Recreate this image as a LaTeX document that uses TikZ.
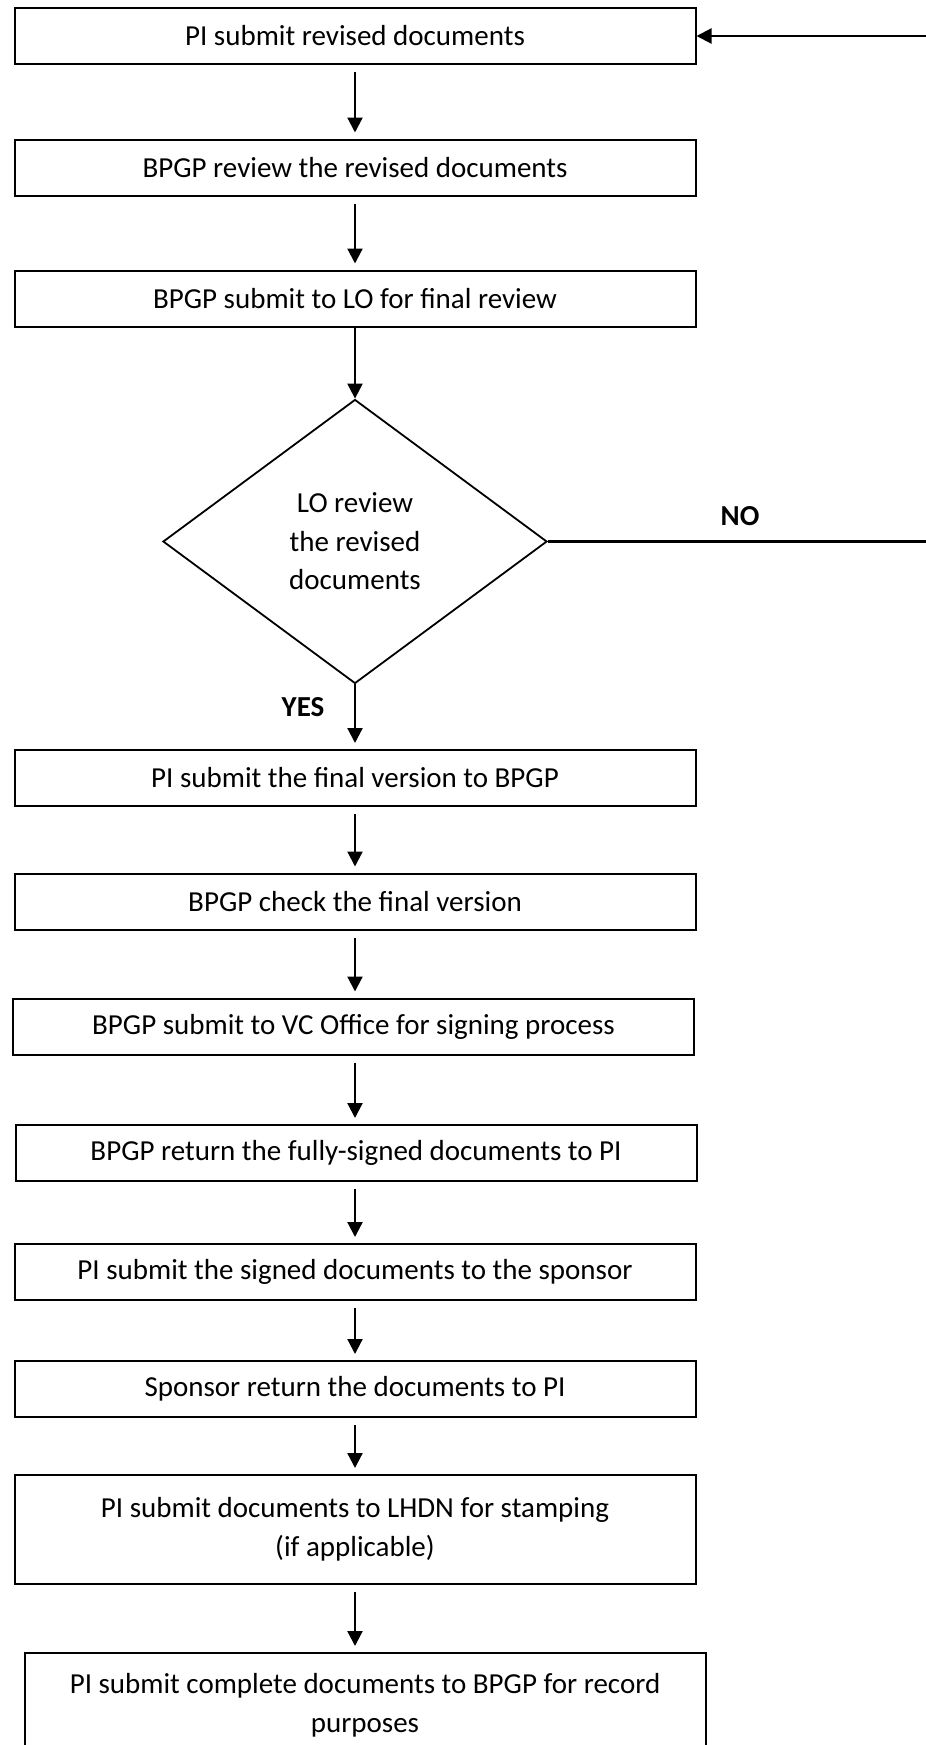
\documentclass[tikz,border=0pt]{standalone}
\usepackage{fontspec}
\setmainfont{Carlito}
\usetikzlibrary{arrows.meta,shapes.geometric}

\begin{document}
\begin{tikzpicture}[x=0.5pt, y=-0.5pt,
      laatikko/.style={draw=black, line width=1pt, minimum width=340.5pt,
        minimum height=28pt, inner sep=0pt, align=center,
        font=\fontsize{14.5pt}{19.5pt}\selectfont},
      paatos/.style={diamond, draw=black, line width=0.9pt, aspect=1.352,
        minimum width=192pt, minimum height=142pt, inner sep=0pt,
        align=center, font=\fontsize{14.5pt}{19.2pt}\selectfont},
      nuoli/.style={line width=1.1pt, draw=black,
        -{Triangle[length=7.5pt, width=7.5pt]}},
      rako/.style={shorten <=3.5pt, shorten >=3pt},
      vastaus/.style={font=\fontsize{14.5pt}{19.5pt}\selectfont\bfseries}]

      % Kuvan rajat
      \clip (0,0) rectangle (926,1745);

      % Laatikot
      \node [laatikko] (b1) at (355,36) {PI submit revised documents};
      \node [laatikko] (b2) at (355,167.5) {BPGP review the revised documents};
      \node [laatikko] (b3) at (355,298.5) {BPGP submit to LO for final review};
      \node [paatos] (d) at (355,541.5) {LO review\\the revised\\documents};
      \node [laatikko] (b4) at (355,778) {PI submit the final version to BPGP};
      \node [laatikko] (b5) at (355,901.5) {BPGP check the final version};
      \node [laatikko] (b6) at (353.5,1026.5) {BPGP submit to VC Office for signing process};
      \node [laatikko] (b7) at (356,1153) {BPGP return the fully-signed documents to PI};
      \node [laatikko] (b8) at (355,1272) {PI submit the signed documents to the sponsor};
      \node [laatikko] (b9) at (355,1389) {Sponsor return the documents to PI};
      \node [laatikko, minimum height=54.5pt] (b10) at (355,1529.5)
        {PI submit documents to LHDN for stamping\\(if applicable)};
      \node [laatikko, minimum height=52pt] (b11) at (365,1705)
        {PI submit complete documents to BPGP for record\\purposes};

      % Vastaukset
      \node [vastaus] (no) at (740,516) {NO};
      \node [vastaus] (yes) at (303,707) {YES};

      % Nuolet
      \draw [nuoli, rako] (b1) -- (b2);
      \draw [nuoli, rako] (b2) -- (b3);
      \draw [nuoli] (b3) -- (d);
      \draw [nuoli, shorten >=3pt] (d) -- (b4);
      \draw [nuoli, rako] (b4) -- (b5);
      \draw [nuoli, rako] (b5) -- (b5.south |- b6.north);
      \draw [nuoli, rako] (b6.south -| b5.south) -- (b5.south |- b7.north);
      \draw [nuoli, rako] (b7.south -| b8.north) -- (b8);
      \draw [nuoli, rako] (b8) -- (b9);
      \draw [nuoli, rako] (b9) -- (b10);
      \draw [nuoli, rako] (b10) -- (b10.south |- b11.north);
      \draw [nuoli] (d.east) -- (960,541.5) |- (b1.east);
    \end{tikzpicture}
\end{document}
